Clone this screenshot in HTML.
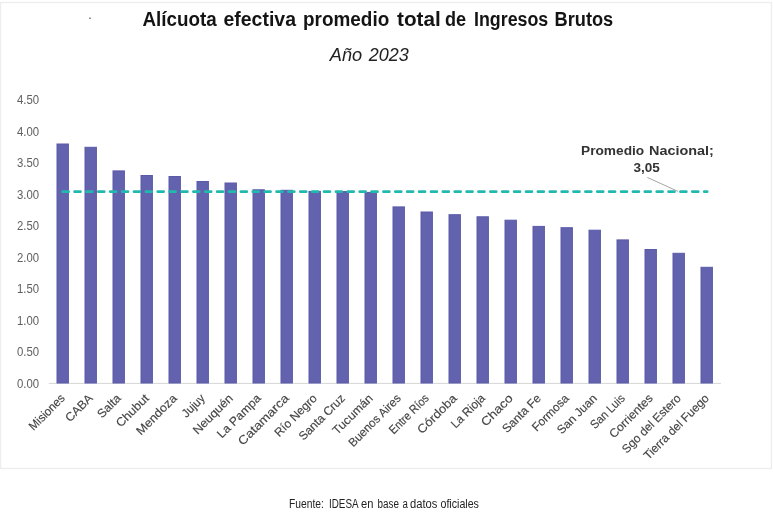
<!DOCTYPE html>
<html lang="es"><head><meta charset="utf-8"><title>Alícuota efectiva promedio total de Ingresos Brutos</title>
<style>
html,body{margin:0;padding:0;background:#fff;}
body{width:773px;height:513px;overflow:hidden;position:relative;font-family:"Liberation Sans",sans-serif;}
svg{position:absolute;left:0;top:0;display:block;}
text{font-family:"Liberation Sans",sans-serif;}
.yl{font-size:12.4px;fill:#606060;}
.xl{font-size:12px;fill:#454545;stroke:#454545;stroke-width:0.15px;}
.bar{fill:#6362af;stroke:#5a5aa9;stroke-width:1px;}
</style></head><body>
<svg width="773" height="513" viewBox="0 0 773 513">
<rect x="0.5" y="2.5" width="771" height="466" fill="#fff" stroke="#ededed" stroke-width="1.4"/>
<circle cx="90" cy="18.2" r="0.85" fill="#777"/>

<text y="26.3" font-size="20.3" font-weight="bold" fill="#141414"><tspan x="142.5" textLength="74.26" lengthAdjust="spacingAndGlyphs">Alícuota</tspan> <tspan x="223.5" textLength="72.47" lengthAdjust="spacingAndGlyphs">efectiva</tspan> <tspan x="303.0" textLength="86.2" lengthAdjust="spacingAndGlyphs">promedio</tspan> <tspan x="397.0" textLength="43.73" lengthAdjust="spacingAndGlyphs">total</tspan> <tspan x="445.0" textLength="21.09" lengthAdjust="spacingAndGlyphs">de</tspan> <tspan x="474.0" textLength="74.28" lengthAdjust="spacingAndGlyphs">Ingresos</tspan> <tspan x="554.5" textLength="58.74" lengthAdjust="spacingAndGlyphs">Brutos</tspan></text>
<text y="61.2" font-size="17.6" font-style="italic" fill="#222"><tspan x="329.8" textLength="32.38" lengthAdjust="spacingAndGlyphs">Año</tspan> <tspan x="368.8" textLength="39.9" lengthAdjust="spacingAndGlyphs">2023</tspan></text>
<text class="yl" x="17.0" y="104.30" textLength="22.15" lengthAdjust="spacingAndGlyphs">4.50</text>
<text class="yl" x="17.0" y="135.77" textLength="22.15" lengthAdjust="spacingAndGlyphs">4.00</text>
<text class="yl" x="17.0" y="167.24" textLength="22.07" lengthAdjust="spacingAndGlyphs">3.50</text>
<text class="yl" x="17.0" y="198.71" textLength="22.07" lengthAdjust="spacingAndGlyphs">3.00</text>
<text class="yl" x="17.0" y="230.18" textLength="22.07" lengthAdjust="spacingAndGlyphs">2.50</text>
<text class="yl" x="17.0" y="261.65" textLength="22.07" lengthAdjust="spacingAndGlyphs">2.00</text>
<text class="yl" x="17.0" y="293.12" textLength="22.07" lengthAdjust="spacingAndGlyphs">1.50</text>
<text class="yl" x="17.0" y="324.59" textLength="22.07" lengthAdjust="spacingAndGlyphs">1.00</text>
<text class="yl" x="17.0" y="356.06" textLength="22.15" lengthAdjust="spacingAndGlyphs">0.50</text>
<text class="yl" x="17.0" y="387.53" textLength="22.15" lengthAdjust="spacingAndGlyphs">0.00</text>
<line x1="48.8" y1="383.4" x2="721" y2="383.4" stroke="#d6d6d6" stroke-width="1"/>
<rect class="bar" x="57.0" y="144.0" width="11.4" height="239.0"/>
<rect class="bar" x="85.0" y="147.3" width="11.4" height="235.7"/>
<rect class="bar" x="113.0" y="170.9" width="11.4" height="212.1"/>
<rect class="bar" x="141.0" y="175.5" width="11.4" height="207.5"/>
<rect class="bar" x="169.0" y="176.5" width="11.4" height="206.5"/>
<rect class="bar" x="197.0" y="181.5" width="11.4" height="201.5"/>
<rect class="bar" x="225.0" y="183.0" width="11.4" height="200.0"/>
<rect class="bar" x="253.0" y="189.8" width="11.4" height="193.2"/>
<rect class="bar" x="281.0" y="190.3" width="11.4" height="192.7"/>
<rect class="bar" x="309.0" y="191.4" width="11.4" height="191.6"/>
<rect class="bar" x="337.0" y="191.6" width="11.4" height="191.4"/>
<rect class="bar" x="365.0" y="192.4" width="11.4" height="190.6"/>
<rect class="bar" x="393.0" y="206.9" width="11.4" height="176.1"/>
<rect class="bar" x="421.0" y="212.0" width="11.4" height="171.0"/>
<rect class="bar" x="449.0" y="214.7" width="11.4" height="168.3"/>
<rect class="bar" x="477.0" y="216.8" width="11.4" height="166.2"/>
<rect class="bar" x="505.0" y="220.2" width="11.4" height="162.8"/>
<rect class="bar" x="533.0" y="226.4" width="11.4" height="156.6"/>
<rect class="bar" x="561.0" y="227.7" width="11.4" height="155.3"/>
<rect class="bar" x="589.0" y="230.2" width="11.4" height="152.8"/>
<rect class="bar" x="617.0" y="239.9" width="11.4" height="143.1"/>
<rect class="bar" x="645.0" y="249.5" width="11.4" height="133.5"/>
<rect class="bar" x="673.0" y="253.3" width="11.4" height="129.7"/>
<rect class="bar" x="701.0" y="267.3" width="11.4" height="115.7"/>
<line x1="62.7" y1="191.65" x2="707.2" y2="191.65" stroke="#21b9ae" stroke-width="2.7" stroke-dasharray="5.9 5.98" stroke-linecap="round"/>
<line x1="647.3" y1="177.4" x2="678" y2="191.4" stroke="#aaa4a4" stroke-width="1"/>
<text y="155.2" font-size="13.4" font-weight="bold" fill="#333"><tspan x="581.0" textLength="63.23" lengthAdjust="spacingAndGlyphs">Promedio</tspan> <tspan x="649.0" textLength="64.91" lengthAdjust="spacingAndGlyphs">Nacional;</tspan></text>
<text x="633.5" y="172" font-size="13.4" font-weight="bold" fill="#333" textLength="26.31" lengthAdjust="spacingAndGlyphs">3,05</text>
<text class="xl" x="-45.4" textLength="45.4" lengthAdjust="spacingAndGlyphs" transform="translate(65.65 399.0) rotate(-45)">Misiones</text>
<text class="xl" x="-33.4" textLength="33.4" lengthAdjust="spacingAndGlyphs" transform="translate(93.65 399.0) rotate(-45)">CABA</text>
<text class="xl" x="-27.8" textLength="27.8" lengthAdjust="spacingAndGlyphs" transform="translate(121.65 399.0) rotate(-45)">Salta</text>
<text class="xl" x="-40.8" textLength="40.8" lengthAdjust="spacingAndGlyphs" transform="translate(149.65 399.0) rotate(-45)">Chubut</text>
<text class="xl" x="-51.8" textLength="51.8" lengthAdjust="spacingAndGlyphs" transform="translate(177.65 399.0) rotate(-45)">Mendoza</text>
<text class="xl" x="-27.2" textLength="27.2" lengthAdjust="spacingAndGlyphs" transform="translate(205.65 399.0) rotate(-45)">Jujuy</text>
<text class="xl" x="-50.9" textLength="50.9" lengthAdjust="spacingAndGlyphs" transform="translate(233.65 399.0) rotate(-45)">Neuquén</text>
<text class="xl" x="-56.4" textLength="56.4" lengthAdjust="spacingAndGlyphs" transform="translate(261.65 399.0) rotate(-45)">La Pampa</text>
<text class="xl" x="-66.3" textLength="66.3" lengthAdjust="spacingAndGlyphs" transform="translate(289.65 399.0) rotate(-45)">Catamarca</text>
<text class="xl" x="-54.3" textLength="54.3" lengthAdjust="spacingAndGlyphs" transform="translate(317.65 399.0) rotate(-45)">Río Negro</text>
<text class="xl" x="-59.5" textLength="59.5" lengthAdjust="spacingAndGlyphs" transform="translate(345.65 399.0) rotate(-45)">Santa Cruz</text>
<text class="xl" x="-51.4" textLength="51.4" lengthAdjust="spacingAndGlyphs" transform="translate(373.65 399.0) rotate(-45)">Tucumán</text>
<text class="xl" x="-68.6" textLength="68.6" lengthAdjust="spacingAndGlyphs" transform="translate(401.65 399.0) rotate(-45)">Buenos Aires</text>
<text class="xl" x="-50.6" textLength="50.6" lengthAdjust="spacingAndGlyphs" transform="translate(429.65 399.0) rotate(-45)">Entre Ríos</text>
<text class="xl" x="-50.3" textLength="50.3" lengthAdjust="spacingAndGlyphs" transform="translate(457.65 399.0) rotate(-45)">Córdoba</text>
<text class="xl" x="-42.2" textLength="42.2" lengthAdjust="spacingAndGlyphs" transform="translate(485.65 399.0) rotate(-45)">La Rioja</text>
<text class="xl" x="-39.5" textLength="39.5" lengthAdjust="spacingAndGlyphs" transform="translate(513.65 399.0) rotate(-45)">Chaco</text>
<text class="xl" x="-48.9" textLength="48.9" lengthAdjust="spacingAndGlyphs" transform="translate(541.65 399.0) rotate(-45)">Santa Fe</text>
<text class="xl" x="-46.5" textLength="46.5" lengthAdjust="spacingAndGlyphs" transform="translate(569.65 399.0) rotate(-45)">Formosa</text>
<text class="xl" x="-50.6" textLength="50.6" lengthAdjust="spacingAndGlyphs" transform="translate(597.65 399.0) rotate(-45)">San Juan</text>
<text class="xl" x="-43.3" textLength="43.3" lengthAdjust="spacingAndGlyphs" transform="translate(625.65 399.0) rotate(-45)">San Luis</text>
<text class="xl" x="-56.2" textLength="56.2" lengthAdjust="spacingAndGlyphs" transform="translate(653.65 399.0) rotate(-45)">Corrientes</text>
<text class="xl" x="-77.7" textLength="77.7" lengthAdjust="spacingAndGlyphs" transform="translate(681.65 399.0) rotate(-45)">Sgo del Estero</text>
<text class="xl" x="-86.6" textLength="86.6" lengthAdjust="spacingAndGlyphs" transform="translate(709.65 399.0) rotate(-45)">Tierra del Fuego</text>
<text y="507.9" font-size="12" fill="#222"><tspan x="289.0" textLength="34.84" lengthAdjust="spacingAndGlyphs">Fuente:</tspan> <tspan x="329.0" textLength="29.0" lengthAdjust="spacingAndGlyphs">IDESA</tspan> <tspan x="361.0" textLength="12.4" lengthAdjust="spacingAndGlyphs">en</tspan> <tspan x="377.5" textLength="21.37" lengthAdjust="spacingAndGlyphs">base</tspan> <tspan x="402.6" textLength="5.4" lengthAdjust="spacingAndGlyphs">a</tspan> <tspan x="410.0" textLength="27.41" lengthAdjust="spacingAndGlyphs">datos</tspan> <tspan x="440.5" textLength="38.4" lengthAdjust="spacingAndGlyphs">oficiales</tspan></text>
</svg></body></html>
